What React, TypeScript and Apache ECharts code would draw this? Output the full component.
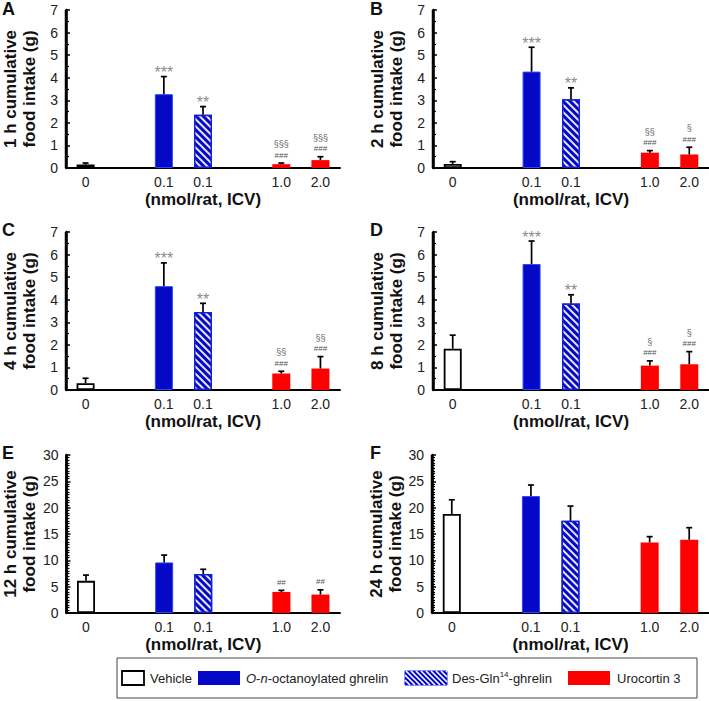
import React, { useEffect, useRef } from 'react';
import * as echarts from 'echarts';

// x slots: 0 = vehicle, 2 = O-n-octanoylated ghrelin, 3 = Des-Gln14-ghrelin, 5/6 = urocortin 3
const categories = ['0', '', '0.1', '0.1', '', '1.0', '2.0'];
const barSlots = [0, 2, 3, 5, 6];
const groupOfBar = ['vehicle', 'ghrelin', 'des', 'ucn', 'ucn'];

const meanA = [0.15, 3.27, 2.36, 0.17, 0.35];
const errA = [0.22, 4.05, 2.72, 0.22, 0.5];
const starsA = ['', '***', '**', '', ''];
const sectA = ['', '', '', '§§§', '§§§'];
const hashA = ['', '', '', '###', '###'];

const meanB = [0.18, 4.27, 3.05, 0.68, 0.6];
const errB = [0.28, 5.35, 3.55, 0.77, 0.92];
const starsB = ['', '***', '**', '', ''];
const sectB = ['', '', '', '§§', '§'];
const hashB = ['', '', '', '###', '###'];

const meanC = [0.3, 4.6, 3.46, 0.73, 0.95];
const errC = [0.52, 5.63, 3.84, 0.83, 1.48];
const starsC = ['', '***', '**', '', ''];
const sectC = ['', '', '', '§§', '§§'];
const hashC = ['', '', '', '###', '###'];

const meanD = [1.83, 5.58, 3.83, 1.08, 1.14];
const errD = [2.43, 6.6, 4.22, 1.29, 1.7];
const starsD = ['', '***', '**', '', ''];
const sectD = ['', '', '', '§', '§'];
const hashD = ['', '', '', '###', '###'];

const meanE = [6.1, 9.6, 7.4, 4.0, 3.5];
const errE = [7.2, 11.0, 8.3, 4.3, 4.4];
const starsE = ['', '', '', '', ''];
const sectE = ['', '', '', '', ''];
const hashE = ['', '', '', '##', '##'];

const meanF = [18.8, 22.2, 17.5, 13.4, 13.9];
const errF = [21.5, 24.3, 20.3, 14.5, 16.2];
const starsF = ['', '', '', '', ''];
const sectF = ['', '', '', '', ''];
const hashF = ['', '', '', '', ''];

const legendLabels = ['Vehicle', 'O-n-octanoylated ghrelin', 'Des-Gln14-ghrelin', 'Urocortin 3'];

const FONT = '"Liberation Sans", Arial, Helvetica, sans-serif';
const BLUE = '#0608C8';
const RED = '#FF0000';

const panels = [
  { letter: 'A', hours: 1, max: 7, interval: 1, minor: 2, mean: meanA, err: errA, stars: starsA, sect: sectA, hash: hashA, left: 65, top: 10, width: 275, lx: 2, ly: 0 },
  { letter: 'B', hours: 2, max: 7, interval: 1, minor: 2, mean: meanB, err: errB, stars: starsB, sect: sectB, hash: hashB, left: 433, top: 10, width: 277, lx: 370, ly: 0 },
  { letter: 'C', hours: 4, max: 7, interval: 1, minor: 2, mean: meanC, err: errC, stars: starsC, sect: sectC, hash: hashC, left: 65, top: 232, width: 275, lx: 2, ly: 221 },
  { letter: 'D', hours: 8, max: 7, interval: 1, minor: 2, mean: meanD, err: errD, stars: starsD, sect: sectD, hash: hashD, left: 433, top: 232, width: 277, lx: 370, ly: 221 },
  { letter: 'E', hours: 12, max: 30, interval: 5, minor: 10, mean: meanE, err: errE, stars: starsE, sect: sectE, hash: hashE, left: 65, top: 455, width: 275, lx: 2, ly: 444 },
  { letter: 'F', hours: 24, max: 30, interval: 5, minor: 10, mean: meanF, err: errF, stars: starsF, sect: sectF, hash: hashF, left: 432, top: 455, width: 277, lx: 370, ly: 444 },
];

const styleFor = (g: string): any => {
  if (g === 'vehicle') return { color: '#ffffff', borderColor: '#000000', borderWidth: 1.8 };
  if (g === 'ghrelin') return { color: BLUE, borderColor: '#2B45F0', borderWidth: 1 };
  if (g === 'des')
    return {
      color: BLUE,
      borderColor: '#1020D8',
      borderWidth: 1.5,
      decal: {
        symbol: 'rect',
        symbolSize: 1,
        color: 'rgba(255,255,255,0.9)',
        dashArrayX: [1, 0],
        dashArrayY: [1.6, 2.2],
        rotation: Math.PI / 4,
      },
    };
  return { color: RED, borderWidth: 0 };
};

function hatchLines(x0: number, y0: number, w: number, h: number, step: number) {
  const out: any[] = [];
  for (let s = -h; s < w; s += step) {
    let ax = s, ay = 0, bx = s + h, by = h;
    if (ax < 0) { ay = -ax; ax = 0; }
    if (bx > w) { by = h - (bx - w); bx = w; }
    if (by <= ay) continue;
    out.push({
      type: 'line',
      shape: { x1: x0 + ax, y1: y0 + ay, x2: x0 + bx, y2: y0 + by },
      style: { stroke: '#ffffff', lineWidth: 1.6 },
      z: 12,
    });
  }
  return out;
}

export default function App() {
  const ref = useRef<HTMLDivElement>(null);
  useEffect(() => {
    if (!ref.current) return;
    const chart = echarts.init(ref.current, undefined, { renderer: 'svg' });

    const grid: any[] = [];
    const xAxis: any[] = [];
    const yAxis: any[] = [];
    const series: any[] = [];
    const graphic: any[] = [];

    panels.forEach((p, i) => {
      grid.push({ left: p.left, top: p.top, width: p.width, height: 158, containLabel: false });
      xAxis.push({
        type: 'category',
        gridIndex: i,
        data: categories,
        boundaryGap: true,
        axisLine: { show: true, lineStyle: { color: '#000000', width: 2 } },
        axisTick: { show: false },
        axisLabel: { fontSize: 14, color: '#222', margin: 7, fontFamily: FONT, interval: 0 },
        name: '(nmol/rat, ICV)',
        nameLocation: 'middle',
        nameGap: 23,
        nameTextStyle: { fontSize: 17, fontWeight: 'bold', color: '#111', fontFamily: FONT },
      });
      yAxis.push({
        type: 'value',
        gridIndex: i,
        min: 0,
        max: p.max,
        interval: p.interval,
        axisLine: { show: true, lineStyle: { color: '#000000', width: 2.5 } },
        axisTick: { show: true, inside: true, length: 4, lineStyle: { color: '#000000', width: 1.5 } },
        minorTick: { show: true, splitNumber: p.minor, length: 3, lineStyle: { color: '#000000', width: 1.2 } },
        splitLine: { show: false },
        axisLabel: { fontSize: 14, color: '#222', margin: 8, fontFamily: FONT },
        name: `${p.hours} h cumulative\nfood intake (g)`,
        nameLocation: 'middle',
        nameRotate: 90,
        nameGap: 27,
        nameTextStyle: { fontSize: 17, fontWeight: 'bold', color: '#111', fontFamily: FONT, lineHeight: 19 },
      });

      const barData: any[] = categories.map(() => '-');
      barSlots.forEach((slot, k) => {
        barData[slot] = { value: p.mean[k], itemStyle: styleFor(groupOfBar[k]) };
      });
      series.push({
        type: 'bar',
        xAxisIndex: i,
        yAxisIndex: i,
        data: barData,
        barWidth: 18,
      });

      const errData = barSlots.map((slot, k) => [slot, p.mean[k], p.err[k]]);
      series.push({
        type: 'custom',
        xAxisIndex: i,
        yAxisIndex: i,
        z: 5,
        data: errData,
        renderItem: (params: any, api: any) => {
          const k = params.dataIndex;
          const x = api.value(0);
          const base = api.coord([x, api.value(1)]);
          const top = api.coord([x, api.value(2)]);
          const children: any[] = [
            { type: 'line', shape: { x1: base[0], y1: base[1], x2: top[0], y2: top[1] }, style: { stroke: '#000', lineWidth: 1.7 } },
            { type: 'line', shape: { x1: top[0] - 3, y1: top[1], x2: top[0] + 3, y2: top[1] }, style: { stroke: '#000', lineWidth: 1.7 } },
          ];
          if (k === 0) {
            const cs = params.coordSys;
            children.push({ type: 'line', shape: { x1: cs.x, y1: cs.y, x2: cs.x, y2: cs.y + cs.height }, style: { stroke: '#000', lineWidth: 2.5 } });
          }
          if (p.stars[k]) {
            children.push({
              type: 'text',
              style: { text: p.stars[k], x: top[0], y: top[1] + 4, align: 'center', verticalAlign: 'bottom', fontSize: 16, fill: '#8c8c8c', fontFamily: FONT },
            });
          }
          if (p.hash[k]) {
            children.push({
              type: 'text',
              style: { text: p.hash[k], x: top[0], y: top[1] - 8, align: 'center', verticalAlign: 'middle', fontSize: 8, fill: '#555', fontFamily: FONT },
            });
          }
          if (p.sect[k]) {
            children.push({
              type: 'text',
              style: { text: p.sect[k], x: top[0], y: top[1] - 19, align: 'center', verticalAlign: 'middle', fontSize: 9, fill: '#666', fontFamily: FONT },
            });
          }
          return { type: 'group', children };
        },
      });

      graphic.push({
        type: 'text',
        left: p.lx,
        top: p.ly,
        style: { text: p.letter, fontSize: 18, fontWeight: 'bold', fill: '#111', fontFamily: FONT },
      });
    });

    // Legend
    const ly = 658;
    const sy = ly + 13;
    const sh = 14;
    graphic.push({ type: 'rect', shape: { x: 117, y: ly, width: 580, height: 40 }, style: { fill: '#fff', stroke: '#444', lineWidth: 1 }, z: 10 });
    graphic.push({ type: 'rect', shape: { x: 122, y: sy, width: 22, height: sh }, style: { fill: '#fff', stroke: '#000', lineWidth: 1.8 }, z: 11 });
    graphic.push({ type: 'text', x: 150, y: sy + sh / 2, style: { text: legendLabels[0], fontSize: 13, fill: '#222', fontFamily: FONT, verticalAlign: 'middle' }, z: 11 });
    graphic.push({ type: 'rect', shape: { x: 198, y: sy, width: 42, height: sh }, style: { fill: BLUE }, z: 11 });
    graphic.push({
      type: 'text', x: 246, y: sy + sh / 2,
      style: { text: '{i|O}-{i|n}-octanoylated ghrelin', fontSize: 13, fill: '#222', fontFamily: FONT, verticalAlign: 'middle', rich: { i: { fontStyle: 'italic', fontSize: 13, fontFamily: FONT, fill: '#222' } } },
      z: 11,
    });
    graphic.push({ type: 'rect', shape: { x: 405, y: sy, width: 42, height: sh }, style: { fill: BLUE, stroke: '#1020D8', lineWidth: 1 }, z: 11 });
    hatchLines(405, sy, 42, sh, 5).forEach((l) => graphic.push(l));
    graphic.push({
      type: 'text', x: 452, y: sy + sh / 2,
      style: {
        text: '{n|Des-Gln}{s|14}{n|-ghrelin}', fontSize: 13, fill: '#222', fontFamily: FONT, verticalAlign: 'middle',
        rich: { n: { fontSize: 13, fontFamily: FONT, fill: '#222', lineHeight: 16 }, s: { fontSize: 8, fontFamily: FONT, fill: '#222', lineHeight: 16, verticalAlign: 'top', padding: [0, 0, 6, 0] } },
      },
      z: 11,
    });
    graphic.push({ type: 'rect', shape: { x: 568, y: sy, width: 42, height: sh }, style: { fill: RED }, z: 11 });
    graphic.push({ type: 'text', x: 617, y: sy + sh / 2, style: { text: legendLabels[3], fontSize: 13, fill: '#222', fontFamily: FONT, verticalAlign: 'middle' }, z: 11 });

    chart.setOption({
      animation: false,
      backgroundColor: '#ffffff',
      textStyle: { fontFamily: FONT },
      grid,
      xAxis,
      yAxis,
      series,
      graphic,
    });
    return () => chart.dispose();
  }, []);

  return <div ref={ref} style={{ position: 'absolute', left: 0, top: 0, width: 709, height: 701 }} />;
}
